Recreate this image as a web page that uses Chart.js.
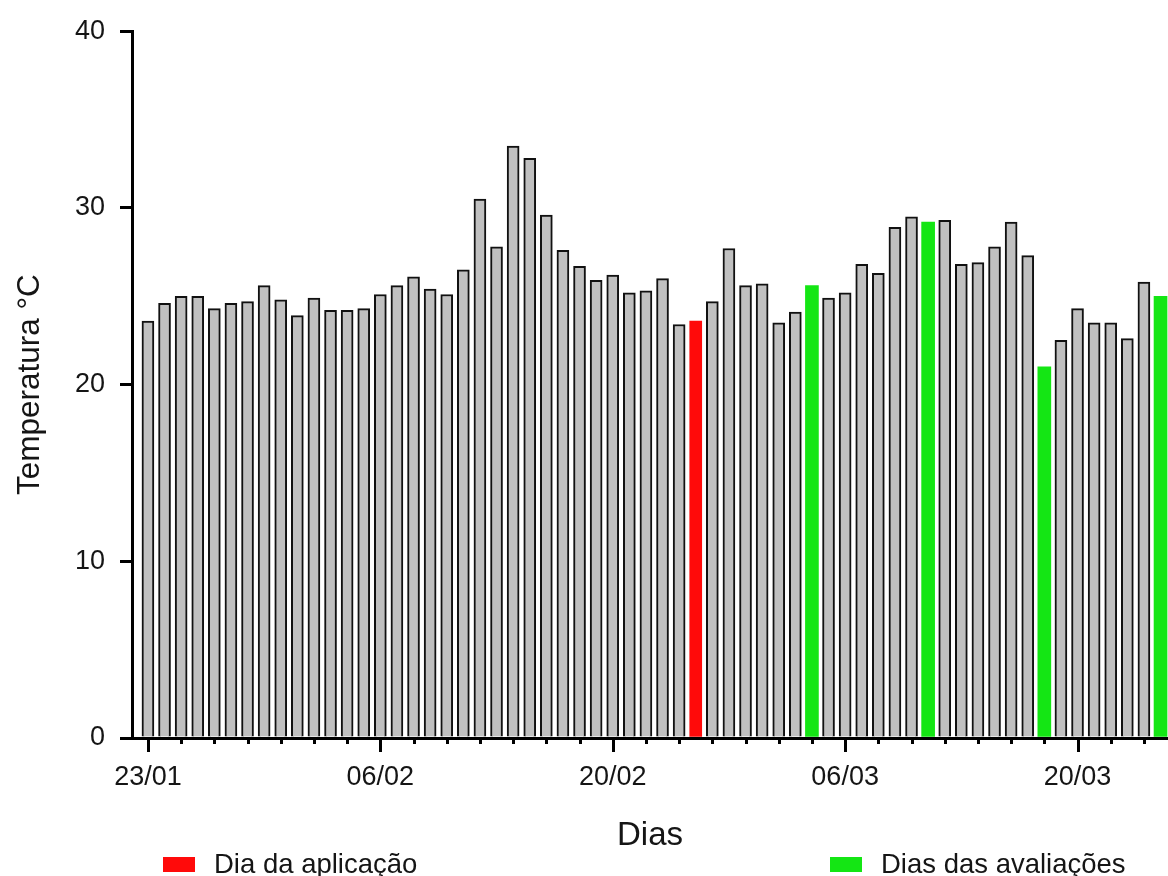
<!DOCTYPE html>
<html>
<head>
<meta charset="utf-8">
<script src="https://cdn.jsdelivr.net/npm/chart.js@4.4.1/dist/chart.umd.min.js"></script>
<style>
html,body{margin:0;padding:0;background:#fff;}
canvas{display:block;}
</style>
</head>
<body>
<canvas id="c" width="1168" height="876"></canvas>
<script>
// ---- data ----
const days = [
  '23/01','24/01','25/01','26/01','27/01','28/01','29/01','30/01','31/01',
  '01/02','02/02','03/02','04/02','05/02','06/02','07/02','08/02','09/02','10/02',
  '11/02','12/02','13/02','14/02','15/02','16/02','17/02','18/02','19/02','20/02',
  '21/02','22/02','23/02','24/02','25/02','26/02','27/02','28/02',
  '01/03','02/03','03/03','04/03','05/03','06/03','07/03','08/03','09/03','10/03',
  '11/03','12/03','13/03','14/03','15/03','16/03','17/03','18/03','19/03','20/03',
  '21/03','22/03','23/03','24/03','25/03'
];
const temperatures = [
  23.6, 24.6, 25.0, 25.0, 24.3, 24.6, 24.7, 25.6, 24.8, 23.9,
  24.9, 24.2, 24.2, 24.3, 25.1, 25.6, 26.1, 25.4, 25.1, 26.5,
  30.5, 27.8, 33.5, 32.8, 29.6, 27.6, 26.7, 25.9, 26.2, 25.2,
  25.3, 26.0, 23.4, 23.6, 24.7, 27.7, 25.6, 25.7, 23.5, 24.1,
  25.6, 24.9, 25.2, 26.8, 26.3, 28.9, 29.5, 29.2, 29.3, 26.8,
  26.9, 27.8, 29.2, 27.3, 21.0, 22.5, 24.3, 23.5, 23.5, 22.6,
  25.8, 25.0
];
const applicationDays = [33];          // 25/02
const evaluationDays = [40, 47, 54, 61]; // 04/03, 11/03, 18/03, 25/03
const yTickValues = [0, 10, 20, 30, 40];
const labelledDays = ['23/01', '06/02', '20/02', '06/03', '20/03'];
const seriesNames = ['Temperatura', 'Dia da aplicação', 'Dias das avaliações'];

// ---- build datasets ----
const pts = temperatures.map((v, i) => ({x: i, y: v}));
const grayPts = pts.filter(p => !applicationDays.includes(p.x) && !evaluationDays.includes(p.x));
const redPts = pts.filter(p => applicationDays.includes(p.x));
const greenPts = pts.filter(p => evaluationDays.includes(p.x));

const FONT = '"Liberation Sans", Arial, Helvetica, sans-serif';
const TXT = '#151515';

const xTickMarks = {
  id: 'xTickMarks',
  afterDraw(chart) {
    const sx = chart.scales.x;
    const ctx = chart.ctx;
    const y0 = chart.chartArea.bottom;
    ctx.save();
    ctx.strokeStyle = '#000';
    ctx.lineWidth = 3;
    for (let i = 0; i < days.length; i += 2) {
      const px = Math.round(sx.getPixelForValue(i)) + 0.5;
      const major = labelledDays.includes(days[i]);
      ctx.beginPath();
      ctx.moveTo(px, y0);
      ctx.lineTo(px, y0 + (major ? 14 : 6));
      ctx.stroke();
    }
    ctx.restore();
  }
};

const splitLegend = {
  id: 'splitLegend',
  afterDraw(chart) {
    const ctx = chart.ctx;
    const items = [{ds: 1, x: 163}, {ds: 2, x: 830}];
    ctx.save();
    ctx.font = '27.5px ' + FONT;
    ctx.textBaseline = 'middle';
    ctx.textAlign = 'left';
    items.forEach(it => {
      const d = chart.data.datasets[it.ds];
      ctx.fillStyle = d.backgroundColor;
      ctx.fillRect(it.x, 857, 32, 15);
      ctx.fillStyle = TXT;
      ctx.fillText(d.label, it.x + 51, 865);
    });
    ctx.restore();
  }
};

new Chart(document.getElementById('c'), {
  type: 'bar',
  data: {
    datasets: [
      {label: seriesNames[0], data: grayPts, backgroundColor: '#c0c0c0', borderColor: '#111', borderWidth: 2, barThickness: 12, grouped: false, borderSkipped: 'bottom'},
      {label: seriesNames[1], data: redPts, backgroundColor: '#ff0a0a', borderWidth: 0, barThickness: 12, grouped: false},
      {label: seriesNames[2], data: greenPts, backgroundColor: '#14e614', borderWidth: 0, barThickness: 13, grouped: false}
    ]
  },
  options: {
    responsive: false,
    animation: false,
    devicePixelRatio: 1,
    layout: {padding: {top: 28, right: 0, bottom: 0, left: 0}},
    plugins: {legend: {display: false}, tooltip: {enabled: false}},
    scales: {
      x: {
        type: 'linear',
        offset: false,
        min: -0.96,
        max: 61.45,
        afterFit: s => { s.height = 138; },
        afterBuildTicks: s => { s.ticks = labelledDays.map(d => ({value: days.indexOf(d)})); },
        grid: {display: false, drawTicks: true, tickLength: 12, offset: false},
        border: {display: true, color: '#000', width: 3},
        ticks: {
          autoSkip: false, maxRotation: 0, minRotation: 0, padding: 11,
          color: TXT, font: {family: FONT, size: 27},
          callback: v => days[v] || ''
        },
        title: {display: true, text: 'Dias', color: TXT, font: {family: FONT, size: 33}, padding: {top: 0, bottom: 20}}
      },
      y: {
        min: 0,
        max: 40,
        afterFit: s => { s.width = 132; },
        afterBuildTicks: s => { s.ticks = yTickValues.map(v => ({value: v})); },
        grid: {display: true, drawOnChartArea: false, drawTicks: true, tickLength: 12, lineWidth: 3, color: '#000'},
        border: {display: true, color: '#000', width: 3},
        ticks: {padding: 15, color: TXT, font: {family: FONT, size: 27}},
        title: {display: true, text: 'Temperatura °C', color: TXT, font: {family: FONT, size: 31.5}, padding: {top: 11, bottom: 0}}
      }
    }
  },
  plugins: [xTickMarks, splitLegend]
});
</script>
</body>
</html>
